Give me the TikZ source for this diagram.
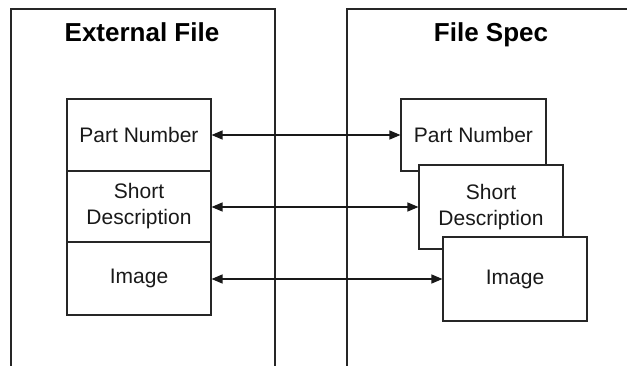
\documentclass[tikz,border=0pt]{standalone}
\usepackage{fontspec}
\setmainfont{Liberation Sans}
\usetikzlibrary{arrows.meta}
\begin{document}
\begin{tikzpicture}[x=1pt,y=-1pt,
  frame/.style={line width=1.1pt,draw=black!85},
  field/.style={frame,fill=white,rectangle,inner sep=0pt,align=center,
    font=\fontsize{21}{26}\selectfont,text=black!90},
  title/.style={font=\fontsize{26}{31}\bfseries\selectfont,anchor=base,inner sep=0pt},
  link/.style={line width=1.2pt,draw=black!90,{Triangle[length=11pt,width=9pt]}-{Triangle[length=11pt,width=9pt]}}]
\useasboundingbox (0,0) rectangle (627,366);
% containers
\draw[frame] (11,366) -- (11,9) -- (275,9) -- (275,366);
\draw[frame] (347,366) -- (347,9) -- (627,9);
\node[title] (t1) at (142,42) {External File};
\node[title] (t2) at (491,42) {File Spec};
% left fields
\node[field,minimum width=144pt,minimum height=72pt] (lpn) at (139,135) {Part Number};
\node[field,minimum width=144pt,minimum height=71pt] (lsd) at (139,206.5) {Short\\Description};
\node[field,minimum width=144pt,minimum height=73pt] (lim) at (139,278.5) {Image};
% right fields
\node[field,minimum width=145pt,minimum height=72pt] (rpn) at (473.5,135) {Part Number};
\node[field,minimum width=144pt,minimum height=84pt] (rsd) at (491,207) {Short\\Description};
\node[field,minimum width=144pt,minimum height=84pt] (rim) at (515,279) {Image};
% links
\draw[link] (lpn.east) -- (rpn.west);
\draw[link] (lsd.east |- rsd.west) -- (rsd.west);
\draw[link] (lim.east |- rim.west) -- (rim.west);
\end{tikzpicture}
\end{document}
